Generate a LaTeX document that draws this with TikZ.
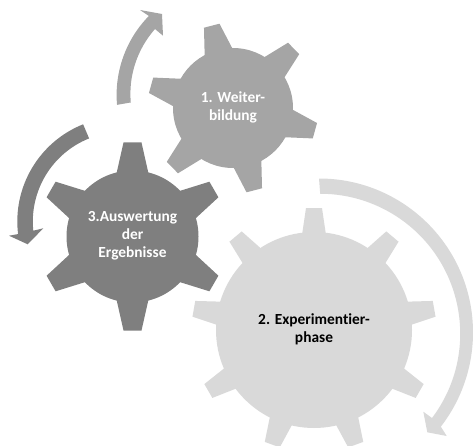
\documentclass[tikz,border=0pt]{standalone}
\usepackage{fontspec}
\setmainfont{Carlito}[Ligatures=NoCommon]
\definecolor{gA}{HTML}{A5A5A5}
\definecolor{gB}{HTML}{D9D9D9}
\definecolor{gC}{HTML}{7F7F7F}
\newcommand{\gearshape}[8]{% cx cy body tip basehalf tiphalf colour angles
  \fill[#7] (#1,#2) circle[radius=#3];
  \foreach \a in {#8}{
    \fill[#7,shift={(#1,#2)},rotate=\a] (#3-3,-#5) -- (#4,-#6) -- (#4,#6) -- (#3-3,#5) -- cycle;
  }
}
\tikzset{lab/.style={font=\fontsize{15.4}{18}\selectfont\bfseries,align=center}}
\begin{document}
\begin{tikzpicture}[x=1pt,y=1pt]
\useasboundingbox (0,0) rectangle (473,445);
\clip (0,0) rectangle (473,445);
% gears
\gearshape{233}{337}{60}{85}{14.5}{8}{gA}{104.5,44.5,-15.5,-75.5,-135.5,164.5}
\gearshape{132.5}{208.5}{66}{94}{16}{9}{gC}{90,30,-30,-90,-150,150}
\gearshape{314}{115}{98}{122}{12}{8}{gB}{90,50,10,-30,-70,-110,-150,170,130}
% arrows
\fill[gA] (229.6,350) ++(185:113) arc[start angle=185,end angle=135.6,radius=113]
  -- (140,435) -- (162,431) -- (163,409.3) -- (155,416)
  arc[start angle=138.5,end angle=185,radius=98] -- cycle;
\fill[gB] (319,112.5) ++(90:154) arc[start angle=90,end angle=-37.7,radius=154]
  -- (446.7,9) -- (427.3,12.7) -- (423.3,33.3) -- (432,27)
  arc[start angle=-37,end angle=90,radius=140] -- cycle;
\fill[gC] (122,223.5) ++(111.8:104.7) arc[start angle=111.8,end angle=186.9,radius=104.7]
  -- (9,209.3) -- (27.7,200.7) -- (43.3,216.7) -- (33.3,214.3)
  arc[start angle=185.9,end angle=111.8,radius=89.5] -- cycle;
% labels
\node[lab,text=white] (n1) at (233,337.5) {1. Weiter-\\bildung};
\node[lab,text=black] (n2) at (314,116) {2. Experimentier-\\phase};
\node[lab,text=white] (n3) at (132.5,209) {3.Auswertung\\der\\Ergebnisse};
\end{tikzpicture}
\end{document}
